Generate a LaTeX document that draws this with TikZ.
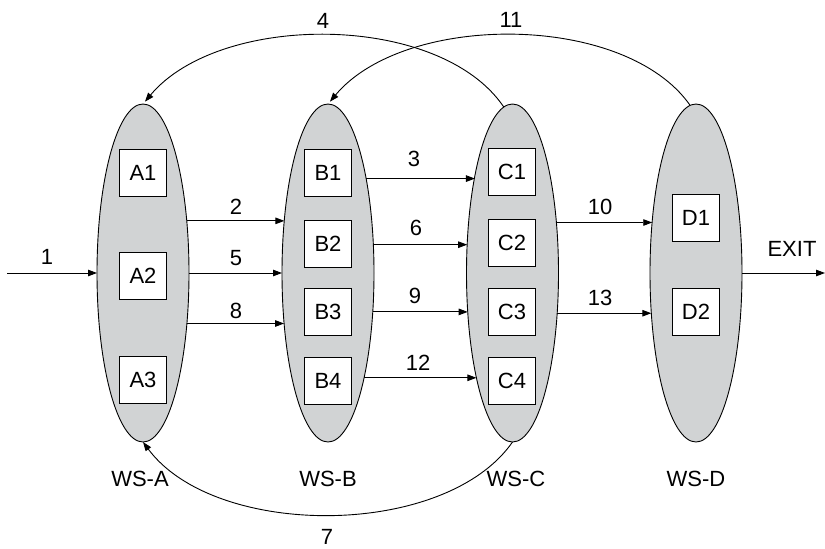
\documentclass[tikz,border=0pt]{standalone}
\usepackage{fontspec}
\setmainfont{Liberation Sans}
\usetikzlibrary{shapes.geometric,arrows.meta}
\definecolor{wsgray}{RGB}{209,211,212}
\begin{document}
\begin{tikzpicture}[x=1pt,y=-1pt,
  font=\fontsize{22}{26}\selectfont,
  station/.style={ellipse, draw, fill=wsgray, line width=0.9pt,
    minimum width=92pt, minimum height=338pt, inner sep=0pt, outer sep=0pt},
  cell/.style={draw, fill=white, line width=1pt,
    minimum width=47pt, minimum height=47pt, inner sep=0pt},
  flow/.style={line width=0.9pt, -{Triangle[length=9pt,width=6.5pt]}},
  lbl/.style={inner sep=0pt}]
\useasboundingbox (0,0) rectangle (825,549);

% work stations
\node[station] (A) at (143,273) {};
\node[station] (B) at (328,273) {};
\node[station] (C) at (512.5,273) {};
\node[station] (D) at (696,273) {};

% machines inside the stations
\node[cell] (A1) at (143,173) {A1};
\node[cell] (A2) at (143,275.5) {A2};
\node[cell] (A3) at (143,380) {A3};
\node[cell] (B1) at (328,173) {B1};
\node[cell] (B2) at (328,244) {B2};
\node[cell] (B3) at (328,312) {B3};
\node[cell] (B4) at (328,381) {B4};
\node[cell] (C1) at (512,172) {C1};
\node[cell] (C2) at (512,243) {C2};
\node[cell] (C3) at (512,312) {C3};
\node[cell] (C4) at (512,381) {C4};
\node[cell] (D1) at (696,218) {D1};
\node[cell] (D2) at (696,312) {D2};

% station names
\node[lbl] (wsA) at (140,479) {WS-A};
\node[lbl] (wsB) at (328,479) {WS-B};
\node[lbl] (wsC) at (516,479) {WS-C};
\node[lbl] (wsD) at (696,479) {WS-D};

% entry and exit
\coordinate (in) at (7,273);
\coordinate (out) at (825,273);
\draw[flow] (in) -- (A.west);
\draw[flow] (D.east) -- (out);

% straight flows between stations (kept level: end x from the border, y from the start)
\draw[flow] (A.50.5) -- (A.50.5 -| B.129.5);
\draw[flow] (A.east) -- (B.west);
\draw[flow] (A.-49.9) -- (A.-49.9 -| B.229.9);
\draw[flow] (B.68.5) -- (B.68.5 -| C.111.5);
\draw[flow] (B.32.6) -- (B.32.6 -| C.147.4);
\draw[flow] (B.-41.8) -- (B.-41.8 -| C.221.8);
\draw[flow] (B.-71.6) -- (B.-71.6 -| C.251.6);
\draw[flow] (C.49.3) -- (C.49.3 -| D.130.7);
\draw[flow] (C.-42.6) -- (C.-42.6 -| D.222.6);

% return flows
\draw[flow, shorten >=3pt] (C.93) .. controls +(-64,-95) and +(77,-92) .. (A.north);
\draw[flow, shorten >=3pt] (D.92) .. controls +(-65,-93) and +(77,-92) .. (B.north);
\draw[flow] (C.south) .. controls +(-67.5,97) and +(72,97) .. (A.south);

% flow numbers
\node[lbl] (n1) at (47,257) {1};
\node[lbl] (n2) at (236,207) {2};
\node[lbl] (n5) at (236,258) {5};
\node[lbl] (n8) at (236,311) {8};
\node[lbl] (n3) at (414,159) {3};
\node[lbl] (n6) at (416,228) {6};
\node[lbl] (n9) at (415,296) {9};
\node[lbl] (n12) at (418,363) {12};
\node[lbl] (n10) at (600,207) {10};
\node[lbl] (n13) at (600,298) {13};
\node[lbl] (exit) at (792,249) {EXIT};
\node[lbl] (n4) at (323,21) {4};
\node[lbl] (n11) at (511,20) {11};
\node[lbl] (n7) at (327,537) {7};
\end{tikzpicture}
\end{document}
